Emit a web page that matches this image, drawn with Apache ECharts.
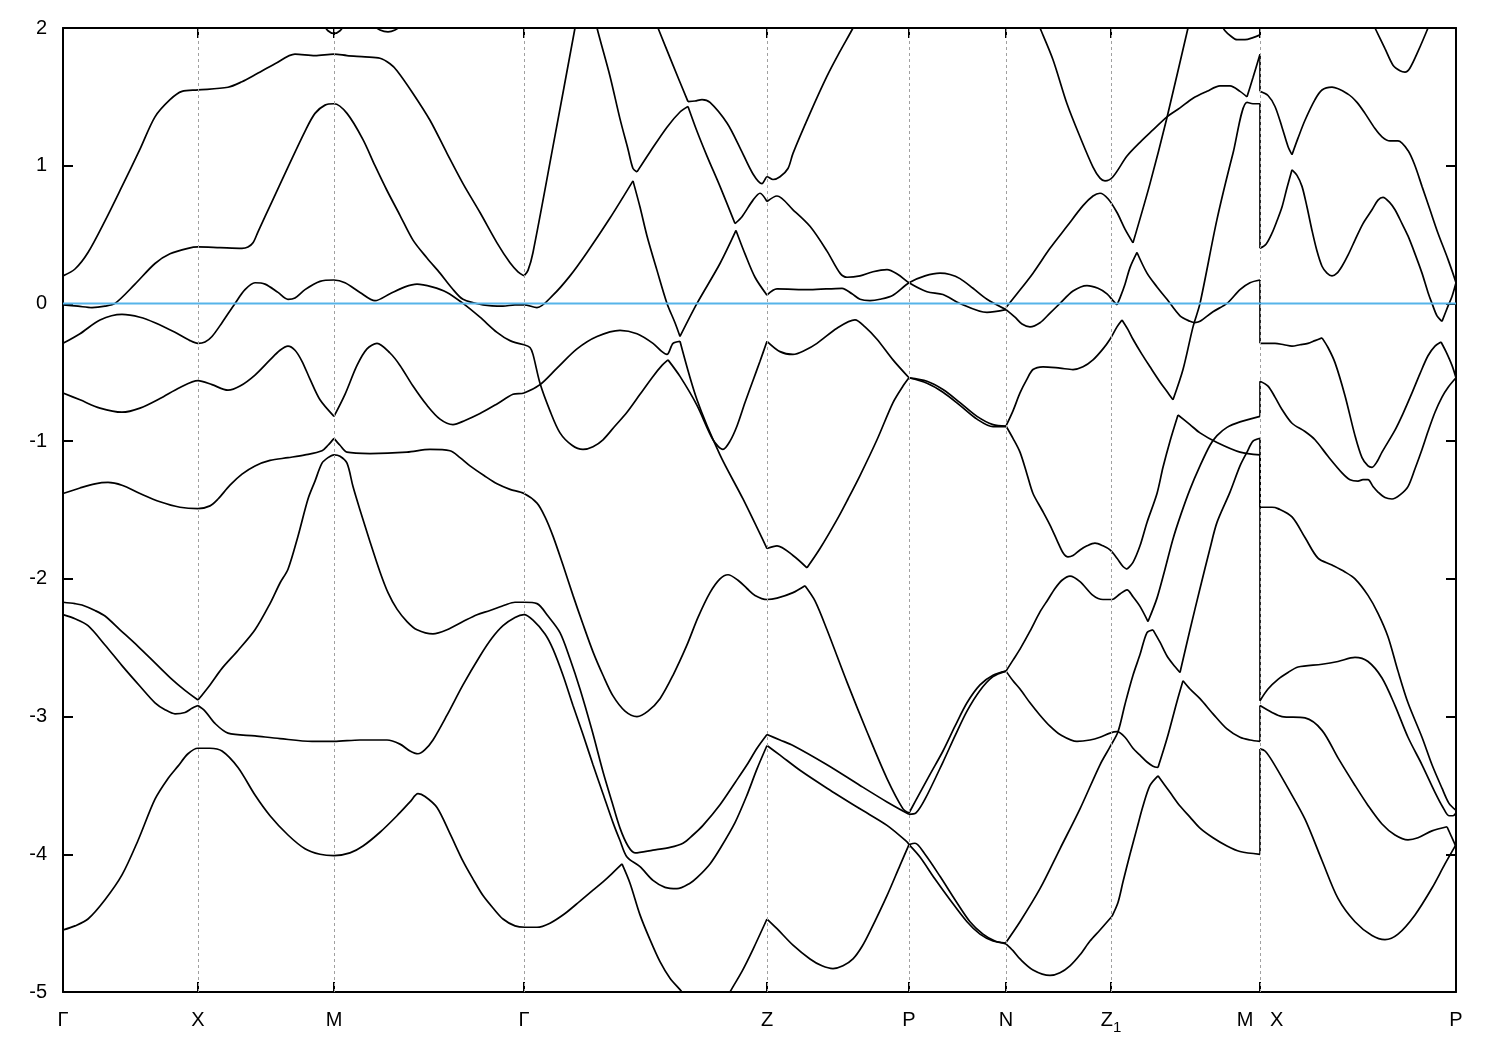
<!DOCTYPE html>
<html><head><meta charset="utf-8">
<script src="https://cdn.jsdelivr.net/npm/echarts@6/dist/echarts.min.js"></script>
<style>html,body{margin:0;padding:0;background:#fff}#c{width:1500px;height:1050px}</style>
</head><body><div id="c"></div>
<script>
// k-path positions of the high-symmetry points and their labels
const tickPositions = [0, 1.35, 2.71, 4.61, 7.04, 8.46, 9.43, 10.48, 11.97, 13.93];
const tickLabels = ['Γ', 'X', 'M', 'Γ', 'Z', 'P', 'N', 'Z1', 'M   X', 'P'];
const energyMin = -5, energyMax = 2, energyStep = 1;
const fermiLevel = 0;

// Each band: list of pieces (split at sharp kinks), points are [k, E(eV)]
const bandA = [
 [[0,0.20],[0.12,0.25],[0.25,0.37],[0.42,0.60],[0.59,0.85],[0.77,1.12],[0.92,1.355],[1.07,1.48],[1.19,1.54],[1.35,1.55],[1.65,1.57],[1.79,1.61],[1.92,1.66],[2.12,1.74],[2.32,1.81],[2.52,1.80],[2.71,1.81],[2.84,1.80],[3.02,1.79],[3.17,1.78],[3.27,1.74],[3.34,1.69],[3.50,1.525],[3.67,1.33],[3.84,1.09],[4.00,0.87],[4.17,0.66],[4.34,0.44],[4.47,0.295],[4.55,0.23],[4.61,0.20]],
 [[4.61,0.20],[4.65,0.24],[4.70,0.37],[4.90,1.14],[5.12,2.0],[5.15,2.12]]
];
const bandU1 = [
 [[5.32,2.08],[5.34,2.0],[5.47,1.65],[5.57,1.34],[5.65,1.12],[5.70,0.98],[5.74,0.955]],
 [[5.74,0.955],[5.87,1.10],[6.04,1.28],[6.17,1.39],[6.25,1.43]],
 [[6.25,1.43],[6.34,1.25],[6.44,1.07],[6.57,0.85],[6.72,0.58]],
 [[6.72,0.58],[6.79,0.63],[6.90,0.75],[6.97,0.80],[7.04,0.74]],
 [[7.04,0.74],[7.14,0.78],[7.30,0.68],[7.47,0.56],[7.64,0.38],[7.77,0.22],[7.84,0.19],[7.97,0.20],[8.10,0.23],[8.24,0.245],[8.35,0.21],[8.46,0.15],[8.64,0.085],[8.80,0.065],[8.97,0.0],[9.24,-0.065],[9.43,-0.045]]
];
const bandU2 = [
 [[5.92,2.05],[5.95,2.0],[6.10,1.73],[6.25,1.465]],
 [[6.25,1.465],[6.32,1.47],[6.39,1.48],[6.47,1.46],[6.64,1.31],[6.77,1.13],[6.90,0.94],[6.99,0.87],[7.02,0.90],[7.04,0.92],[7.10,0.90],[7.17,0.92],[7.25,0.98],[7.30,1.09],[7.47,1.38],[7.64,1.65],[7.77,1.83],[7.90,2.0],[7.93,2.05]]
];
const bandB = [
 [[0,-0.01],[0.15,-0.02],[0.29,-0.03],[0.42,-0.02],[0.52,0.0],[0.72,0.14],[0.92,0.29],[1.07,0.36],[1.25,0.40],[1.35,0.41],[1.57,0.405],[1.79,0.40],[1.85,0.41],[1.90,0.44],[1.95,0.52],[2.09,0.74],[2.25,0.99],[2.42,1.25],[2.52,1.38],[2.62,1.44],[2.71,1.45],[2.84,1.38],[3.00,1.19],[3.12,1.0],[3.24,0.82],[3.37,0.64],[3.50,0.46],[3.64,0.33],[3.77,0.22],[3.89,0.11],[4.00,0.03],[4.20,-0.01],[4.40,-0.02],[4.52,-0.01],[4.61,-0.01],[4.74,-0.03],[4.90,0.06],[5.07,0.20],[5.24,0.37],[5.47,0.62],[5.70,0.89]],
 [[5.70,0.89],[5.77,0.70],[5.84,0.49],[5.94,0.24],[6.04,0.0],[6.12,-0.14],[6.17,-0.24]],
 [[6.17,-0.24],[6.34,0.0],[6.57,0.29],[6.73,0.53]],
 [[6.73,0.53],[6.82,0.36],[6.92,0.19],[7.04,0.06]],
 [[7.04,0.06],[7.14,0.105],[7.47,0.10],[7.79,0.11],[7.89,0.07],[7.97,0.03],[8.07,0.02],[8.17,0.03],[8.30,0.06],[8.46,0.15],[8.62,0.20],[8.77,0.22],[8.87,0.21],[8.97,0.18],[9.10,0.11],[9.24,0.03],[9.43,-0.045]]
];
const bandC = [
 [[0,-0.29],[0.17,-0.22],[0.37,-0.12],[0.59,-0.08],[0.77,-0.10],[0.92,-0.14],[1.12,-0.21],[1.27,-0.27],[1.35,-0.29],[1.42,-0.28],[1.49,-0.24],[1.59,-0.14],[1.72,0.0],[1.82,0.10],[1.92,0.15],[2.02,0.14],[2.15,0.08],[2.25,0.03],[2.32,0.04],[2.42,0.10],[2.57,0.16],[2.71,0.17],[2.82,0.15],[2.97,0.08],[3.12,0.02],[3.27,0.07],[3.42,0.12],[3.54,0.14],[3.69,0.12],[3.84,0.08],[4.00,0.0],[4.17,-0.10],[4.34,-0.21],[4.47,-0.27],[4.61,-0.30]],
 [[4.61,-0.30],[4.67,-0.32],[4.70,-0.37],[4.77,-0.58],[4.87,-0.78],[4.97,-0.94],[5.09,-1.03],[5.20,-1.06],[5.30,-1.04],[5.40,-0.99],[5.52,-0.89],[5.64,-0.79],[5.77,-0.66],[5.90,-0.53],[5.99,-0.45],[6.05,-0.41]],
 [[6.05,-0.41],[6.17,-0.53],[6.34,-0.74],[6.50,-0.99],[6.60,-1.06],[6.67,-1.0],[6.74,-0.89],[6.82,-0.72],[6.90,-0.56],[6.97,-0.42],[7.04,-0.275]],
 [[7.04,-0.275],[7.17,-0.35],[7.30,-0.37],[7.42,-0.34],[7.54,-0.29],[7.74,-0.18],[7.92,-0.12],[8.02,-0.17],[8.14,-0.26],[8.30,-0.41],[8.46,-0.54]],
 [[8.46,-0.54],[8.64,-0.565],[8.80,-0.625],[8.97,-0.72],[9.14,-0.82],[9.30,-0.88],[9.43,-0.89]]
];
const bandD = [
 [[0,-0.65],[0.17,-0.70],[0.37,-0.76],[0.59,-0.79],[0.77,-0.76],[0.97,-0.69],[1.17,-0.61],[1.35,-0.56],[1.49,-0.59],[1.65,-0.63],[1.77,-0.60],[1.92,-0.52],[2.07,-0.41],[2.17,-0.34],[2.25,-0.31],[2.32,-0.34],[2.39,-0.42],[2.47,-0.55],[2.57,-0.70],[2.71,-0.82]],
 [[2.71,-0.82],[2.82,-0.66],[2.94,-0.45],[3.04,-0.33],[3.14,-0.29],[3.27,-0.36],[3.37,-0.45],[3.50,-0.60],[3.64,-0.74],[3.77,-0.84],[3.90,-0.88],[4.02,-0.85],[4.17,-0.80],[4.34,-0.73],[4.50,-0.66],[4.61,-0.65],[4.77,-0.59],[4.94,-0.47],[5.14,-0.33],[5.34,-0.24],[5.57,-0.195],[5.74,-0.22],[5.90,-0.29],[5.99,-0.35],[6.04,-0.37],[6.10,-0.29],[6.17,-0.275]],
 [[6.17,-0.275],[6.34,-0.70],[6.57,-1.10],[6.80,-1.42],[7.04,-1.78]],
 [[7.04,-1.78],[7.14,-1.76],[7.30,-1.83],[7.44,-1.92]],
 [[7.44,-1.92],[7.57,-1.78],[7.74,-1.57],[7.85,-1.42],[7.97,-1.25],[8.14,-0.99],[8.30,-0.72],[8.40,-0.60],[8.46,-0.54]],
 [[8.46,-0.54],[8.64,-0.58],[8.80,-0.645],[8.97,-0.74],[9.14,-0.84],[9.30,-0.895],[9.43,-0.895]]
];
const bandE = [
 [[0,-1.38],[0.17,-1.34],[0.32,-1.31],[0.45,-1.30],[0.59,-1.32],[0.77,-1.38],[0.97,-1.44],[1.17,-1.48],[1.35,-1.49],[1.47,-1.47],[1.55,-1.42],[1.67,-1.32],[1.79,-1.24],[1.92,-1.18],[2.07,-1.14],[2.25,-1.12],[2.42,-1.10],[2.59,-1.07],[2.65,-1.03],[2.71,-0.98]],
 [[2.71,-0.98],[2.77,-1.03],[2.84,-1.08],[3.07,-1.09],[3.44,-1.08],[3.67,-1.06],[3.87,-1.07],[3.97,-1.12],[4.07,-1.18],[4.21,-1.25],[4.34,-1.31],[4.47,-1.35],[4.61,-1.38],[4.74,-1.45],[4.82,-1.55],[4.90,-1.69],[5.00,-1.90],[5.10,-2.12],[5.20,-2.33],[5.30,-2.53],[5.40,-2.70],[5.50,-2.85],[5.62,-2.96],[5.74,-3.0],[5.85,-2.96],[5.97,-2.87],[6.10,-2.70],[6.24,-2.48],[6.35,-2.28],[6.47,-2.10],[6.57,-2.0],[6.65,-1.97],[6.75,-2.01],[6.84,-2.07],[6.92,-2.12],[7.04,-2.15],[7.14,-2.14],[7.30,-2.10],[7.42,-2.05]],
 [[7.42,-2.05],[7.52,-2.16],[7.64,-2.37],[7.84,-2.75],[8.04,-3.11],[8.24,-3.45],[8.40,-3.67],[8.46,-3.70]],
 [[8.46,-3.70],[8.52,-3.62],[8.67,-3.42],[8.80,-3.25],[8.92,-3.07],[9.04,-2.90],[9.17,-2.77],[9.30,-2.70],[9.43,-2.67]]
];
const bandF = [
 [[0,-2.17],[0.12,-2.18],[0.19,-2.19],[0.32,-2.23],[0.42,-2.27],[0.57,-2.37],[0.75,-2.49],[0.92,-2.61],[1.09,-2.73],[1.22,-2.81],[1.35,-2.88]],
 [[1.35,-2.88],[1.47,-2.77],[1.59,-2.65],[1.75,-2.52],[1.92,-2.37],[2.07,-2.18],[2.17,-2.03],[2.25,-1.93],[2.35,-1.69],[2.45,-1.42],[2.52,-1.29],[2.59,-1.16],[2.65,-1.12],[2.71,-1.10],[2.77,-1.11],[2.84,-1.16],[2.90,-1.33],[2.97,-1.50],[3.07,-1.73],[3.17,-1.95],[3.25,-2.10],[3.34,-2.22],[3.44,-2.31],[3.54,-2.37],[3.70,-2.40],[3.84,-2.37],[4.00,-2.31],[4.14,-2.26],[4.27,-2.23],[4.42,-2.19],[4.52,-2.17],[4.61,-2.17],[4.74,-2.18],[4.85,-2.27],[4.97,-2.39],[5.07,-2.58],[5.17,-2.80],[5.29,-3.10],[5.40,-3.40],[5.49,-3.62],[5.57,-3.81],[5.65,-3.94],[5.72,-3.99],[5.90,-3.97],[6.07,-3.95],[6.20,-3.92],[6.30,-3.86],[6.40,-3.79],[6.57,-3.64],[6.72,-3.48],[6.84,-3.35],[6.94,-3.23],[7.04,-3.13]],
 [[7.04,-3.13],[7.17,-3.17],[7.30,-3.21],[7.64,-3.35],[7.97,-3.50],[8.24,-3.62],[8.46,-3.71]],
 [[8.46,-3.71],[8.53,-3.70],[8.62,-3.60],[8.80,-3.33],[8.92,-3.14],[9.04,-2.96],[9.17,-2.81],[9.30,-2.71],[9.43,-2.67]]
];
const bandG = [
 [[0,-2.26],[0.12,-2.29],[0.25,-2.34],[0.42,-2.48],[0.59,-2.63],[0.77,-2.78],[0.92,-2.90],[1.02,-2.95],[1.12,-2.98],[1.22,-2.97],[1.29,-2.94],[1.35,-2.92]],
 [[1.35,-2.92],[1.42,-2.96],[1.52,-3.05],[1.65,-3.12],[1.92,-3.14],[2.17,-3.16],[2.49,-3.18],[2.71,-3.18],[2.97,-3.17],[3.24,-3.17],[3.37,-3.20],[3.47,-3.25],[3.55,-3.27],[3.62,-3.24],[3.70,-3.17],[3.84,-2.99],[4.00,-2.77],[4.17,-2.56],[4.29,-2.43],[4.40,-2.34],[4.52,-2.28],[4.61,-2.26],[4.70,-2.30],[4.82,-2.40],[4.90,-2.51],[5.00,-2.70],[5.10,-2.92],[5.20,-3.13],[5.30,-3.35],[5.40,-3.56],[5.50,-3.77],[5.57,-3.90],[5.64,-4.02],[5.77,-4.09],[5.90,-4.19],[6.02,-4.24],[6.14,-4.25],[6.27,-4.21],[6.34,-4.17],[6.47,-4.07],[6.57,-3.96],[6.72,-3.77],[6.84,-3.57],[6.94,-3.38],[7.04,-3.21]],
 [[7.04,-3.21],[7.17,-3.28],[7.37,-3.39],[7.64,-3.52],[7.97,-3.67],[8.24,-3.79],[8.44,-3.91],[8.46,-3.93]],
 [[8.46,-3.93],[8.57,-4.02],[8.72,-4.18],[8.87,-4.33],[9.04,-4.49],[9.17,-4.58],[9.30,-4.63],[9.43,-4.645]]
];
const bandH = [
 [[0,-4.55],[0.12,-4.52],[0.25,-4.47],[0.42,-4.33],[0.59,-4.15],[0.75,-3.90],[0.92,-3.60],[1.05,-3.45],[1.15,-3.36],[1.25,-3.27],[1.35,-3.23],[1.47,-3.23],[1.59,-3.25],[1.75,-3.37],[1.92,-3.57],[2.07,-3.72],[2.25,-3.86],[2.42,-3.96],[2.57,-4.0],[2.71,-4.01],[2.87,-3.99],[3.00,-3.94],[3.17,-3.84],[3.34,-3.72],[3.47,-3.62],[3.55,-3.56],[3.62,-3.58],[3.74,-3.66],[3.87,-3.85],[4.00,-4.05],[4.10,-4.18],[4.20,-4.30],[4.30,-4.39],[4.40,-4.47],[4.52,-4.52],[4.62,-4.53],[4.74,-4.53],[4.87,-4.50],[5.02,-4.43],[5.17,-4.34],[5.30,-4.26],[5.40,-4.20],[5.49,-4.14],[5.59,-4.07]],
 [[5.59,-4.07],[5.67,-4.21],[5.77,-4.44],[5.87,-4.62],[5.97,-4.78],[6.07,-4.90],[6.19,-5.0],[6.27,-5.08]]
];
const bandH2 = [
 [[6.62,-5.08],[6.67,-5.0],[6.79,-4.85],[6.90,-4.69],[7.04,-4.47]],
 [[7.04,-4.47],[7.14,-4.54],[7.30,-4.66],[7.47,-4.76],[7.59,-4.81],[7.70,-4.83],[7.80,-4.81],[7.90,-4.76],[7.99,-4.67],[8.07,-4.56],[8.24,-4.30],[8.37,-4.08],[8.46,-3.93]],
 [[8.46,-3.93],[8.52,-3.92],[8.62,-4.0],[8.77,-4.16],[8.92,-4.33],[9.07,-4.49],[9.20,-4.58],[9.32,-4.63],[9.43,-4.65]]
];
const bandTop = [
 [[2.60,2.03],[2.65,1.98],[2.71,1.96],[2.77,1.98],[2.82,2.03]],
 [[3.10,2.02],[3.17,1.985],[3.25,1.972],[3.32,1.985],[3.39,2.02]],
 [[11.58,2.03],[11.62,1.98],[11.68,1.94],[11.74,1.915],[11.82,1.915],[11.90,1.93],[11.97,1.95]],
 [[13.07,2.07],[13.12,2.0],[13.22,1.85],[13.30,1.73],[13.37,1.69],[13.42,1.68],[13.47,1.71],[13.55,1.83],[13.65,2.0],[13.68,2.06]]
];
// N – Z1 – M segment
const bandN1 = [
 [[9.74,2.05],[9.77,2.0],[9.90,1.77],[10.04,1.45],[10.17,1.21],[10.30,0.99],[10.37,0.91],[10.42,0.89],[10.50,0.92],[10.64,1.07],[10.77,1.17],[10.90,1.26],[11.04,1.355],[11.17,1.42],[11.30,1.49],[11.44,1.54],[11.57,1.58],[11.67,1.58],[11.77,1.54],[11.84,1.50]],
 [[11.84,1.50],[11.90,1.64],[11.97,1.81]]
];
const bandN2 = [
 [[9.43,-0.03],[9.54,0.07],[9.70,0.22],[9.87,0.40],[10.04,0.56],[10.20,0.71],[10.30,0.78],[10.37,0.80],[10.45,0.76],[10.54,0.66],[10.62,0.54],[10.70,0.44]],
 [[10.70,0.44],[10.87,0.87],[11.04,1.35],[11.25,2.0],[11.28,2.08]]
];
const bandN3 = [
 [[9.43,-0.045],[9.52,-0.10],[9.59,-0.15],[9.67,-0.17],[9.77,-0.14],[9.87,-0.07],[9.97,0.0],[10.10,0.09],[10.24,0.13],[10.35,0.11],[10.44,0.07],[10.50,0.02],[10.54,-0.01]],
 [[10.54,-0.01],[10.57,0.04],[10.62,0.14],[10.67,0.26],[10.74,0.37]],
 [[10.74,0.37],[10.84,0.22],[10.94,0.12],[11.04,0.03],[11.17,-0.09],[11.27,-0.13],[11.32,-0.14]],
 [[11.32,-0.14],[11.37,-0.13],[11.50,-0.06],[11.64,0.0],[11.77,0.10],[11.87,0.15],[11.97,0.17]]
];
const bandN4 = [
 [[9.43,-0.89],[9.50,-0.78],[9.57,-0.65],[9.64,-0.55],[9.70,-0.48],[9.80,-0.46],[9.97,-0.47],[10.10,-0.48],[10.20,-0.46],[10.30,-0.41],[10.40,-0.33],[10.47,-0.26],[10.54,-0.17],[10.59,-0.12]],
 [[10.59,-0.12],[10.65,-0.19],[10.70,-0.26],[10.79,-0.37],[10.87,-0.46],[10.97,-0.57],[11.04,-0.64],[11.10,-0.70]],
 [[11.10,-0.70],[11.20,-0.48],[11.30,-0.17],[11.37,0.0],[11.54,0.61],[11.70,1.09],[11.84,1.46],[11.90,1.45],[11.97,1.45]]
];
const bandN5 = [
 [[9.43,-0.89],[9.50,-0.98],[9.57,-1.08],[9.64,-1.24],[9.70,-1.38],[9.79,-1.50],[9.87,-1.61],[9.94,-1.72],[10.00,-1.81],[10.05,-1.84],[10.10,-1.83],[10.17,-1.79],[10.24,-1.76],[10.32,-1.74],[10.40,-1.76],[10.47,-1.79],[10.54,-1.85],[10.60,-1.91],[10.64,-1.93]],
 [[10.64,-1.93],[10.70,-1.88],[10.77,-1.76],[10.84,-1.59],[10.94,-1.38],[11.00,-1.19],[11.07,-1.00],[11.15,-0.81]],
 [[11.15,-0.81],[11.27,-0.88],[11.37,-0.94],[11.54,-1.01],[11.77,-1.08],[11.97,-1.10]]
];
const bandN6 = [
 [[9.43,-2.67],[9.50,-2.59],[9.57,-2.51],[9.67,-2.38],[9.77,-2.24],[9.85,-2.15],[9.92,-2.07],[9.99,-2.01],[10.07,-1.98],[10.17,-2.02],[10.30,-2.12],[10.40,-2.15],[10.49,-2.15],[10.57,-2.11],[10.64,-2.08],[10.70,-2.13],[10.77,-2.20],[10.85,-2.31]],
 [[10.85,-2.31],[10.94,-2.14],[11.02,-1.93],[11.10,-1.71],[11.18,-1.53],[11.27,-1.35],[11.37,-1.18],[11.47,-1.03],[11.54,-0.96],[11.64,-0.90],[11.77,-0.86],[11.97,-0.82]]
];
const bandN7 = [
 [[9.43,-2.67],[9.50,-2.74],[9.57,-2.80],[9.67,-2.90],[9.77,-2.99],[9.87,-3.07],[9.97,-3.13],[10.14,-3.18],[10.27,-3.17],[10.37,-3.15],[10.47,-3.12],[10.54,-3.11],[10.62,-3.15],[10.70,-3.23],[10.77,-3.28],[10.84,-3.33],[10.90,-3.36],[10.95,-3.37]],
 [[10.95,-3.37],[11.04,-3.16],[11.14,-2.89],[11.20,-2.74]],
 [[11.20,-2.74],[11.27,-2.80],[11.37,-2.87],[11.50,-2.98],[11.64,-3.09],[11.77,-3.15],[11.87,-3.17],[11.97,-3.18]]
];
const bandN8 = [
 [[9.43,-4.64],[9.57,-4.49],[9.77,-4.25],[9.97,-3.96],[10.17,-3.67],[10.37,-3.35],[10.47,-3.22],[10.55,-3.11],[10.62,-2.91],[10.70,-2.70],[10.77,-2.55],[10.84,-2.39],[10.90,-2.37]],
 [[10.90,-2.37],[10.97,-2.46],[11.04,-2.56],[11.10,-2.62],[11.17,-2.68]],
 [[11.17,-2.68],[11.27,-2.37],[11.37,-2.07],[11.47,-1.78],[11.54,-1.59],[11.67,-1.37],[11.77,-1.18],[11.84,-1.08],[11.90,-1.00],[11.97,-0.98]]
];
const bandN9 = [
 [[9.43,-4.65],[9.50,-4.70],[9.57,-4.76],[9.70,-4.84],[9.87,-4.88],[9.97,-4.86],[10.07,-4.81],[10.17,-4.73],[10.27,-4.63],[10.37,-4.55],[10.49,-4.45]],
 [[10.49,-4.45],[10.55,-4.35],[10.60,-4.20],[10.67,-4.00],[10.74,-3.81],[10.80,-3.65],[10.87,-3.50],[10.95,-3.43]],
 [[10.95,-3.43],[11.07,-3.55],[11.17,-3.65],[11.27,-3.73],[11.37,-3.81],[11.50,-3.88],[11.64,-3.94],[11.77,-3.98],[11.97,-4.0]]
];
// X – P segment
const bandX2 = [
 [[11.97,1.54],[12.05,1.51],[12.12,1.43],[12.19,1.28],[12.25,1.14],[12.29,1.08]],
 [[12.29,1.08],[12.35,1.20],[12.42,1.33],[12.52,1.48],[12.59,1.55],[12.69,1.57],[12.85,1.52],[12.94,1.46],[13.02,1.38],[13.12,1.27],[13.19,1.21],[13.27,1.18],[13.35,1.18],[13.45,1.11],[13.52,1.0],[13.59,0.85],[13.67,0.68],[13.75,0.51],[13.85,0.32],[13.93,0.15]]
];
const bandX3 = [
 [[11.97,0.40],[12.03,0.43],[12.09,0.51],[12.14,0.60],[12.19,0.70],[12.24,0.84],[12.29,0.97]],
 [[12.29,0.97],[12.34,0.93],[12.39,0.85],[12.44,0.70],[12.49,0.53],[12.54,0.38],[12.59,0.27],[12.64,0.22],[12.69,0.20],[12.74,0.22],[12.79,0.27],[12.85,0.35],[12.92,0.46],[13.00,0.58],[13.09,0.68],[13.15,0.75],[13.20,0.77],[13.27,0.73],[13.32,0.68],[13.39,0.58],[13.45,0.49],[13.52,0.36],[13.59,0.22],[13.65,0.08],[13.69,0.0],[13.74,-0.09],[13.79,-0.13]],
 [[13.79,-0.13],[13.85,-0.02],[13.89,0.05],[13.93,0.15]]
];
const bandX4 = [
 [[11.97,-0.29],[12.12,-0.29],[12.21,-0.30],[12.29,-0.31],[12.37,-0.30],[12.45,-0.29],[12.52,-0.27],[12.59,-0.25]],
 [[12.59,-0.25],[12.65,-0.32],[12.72,-0.43],[12.82,-0.67],[12.92,-0.96],[12.99,-1.12],[13.05,-1.18],[13.09,-1.19],[13.14,-1.15],[13.19,-1.08],[13.32,-0.92],[13.40,-0.80],[13.49,-0.65],[13.57,-0.51],[13.65,-0.38],[13.72,-0.31],[13.78,-0.28]],
 [[13.78,-0.28],[13.83,-0.35],[13.89,-0.45],[13.93,-0.54]]
];
const bandX5 = [
 [[11.97,-0.565],[12.05,-0.60],[12.12,-0.68],[12.19,-0.77],[12.29,-0.87],[12.42,-0.93],[12.52,-0.99],[12.65,-1.11],[12.79,-1.23],[12.87,-1.28],[12.95,-1.29],[13.00,-1.28],[13.05,-1.28],[13.10,-1.33],[13.15,-1.37],[13.22,-1.41],[13.29,-1.42],[13.37,-1.39],[13.45,-1.33],[13.52,-1.20],[13.59,-1.06],[13.65,-0.93],[13.72,-0.79],[13.79,-0.68],[13.85,-0.61],[13.93,-0.54]]
];
const bandX6 = [
 [[11.97,-1.48],[12.09,-1.48],[12.15,-1.49],[12.29,-1.55],[12.42,-1.70],[12.55,-1.85],[12.69,-1.90],[12.82,-1.95],[12.92,-2.0],[13.05,-2.12],[13.15,-2.25],[13.25,-2.42],[13.35,-2.67],[13.45,-2.90],[13.59,-3.15],[13.69,-3.35],[13.79,-3.52],[13.86,-3.63],[13.93,-3.68]]
];
const bandX7 = [
 [[11.97,-2.885],[12.05,-2.80],[12.15,-2.73],[12.25,-2.68],[12.35,-2.64],[12.59,-2.62],[12.75,-2.60],[12.92,-2.57],[13.05,-2.60],[13.19,-2.72],[13.32,-2.92],[13.45,-3.15],[13.59,-3.35],[13.72,-3.55],[13.80,-3.66],[13.86,-3.72],[13.90,-3.72],[13.93,-3.70]]
];
const bandX8 = [
 [[11.97,-2.92],[12.09,-2.97],[12.19,-3.0],[12.42,-3.01],[12.59,-3.10],[12.75,-3.30],[12.92,-3.50],[13.05,-3.645],[13.19,-3.78],[13.32,-3.86],[13.45,-3.895],[13.55,-3.88],[13.69,-3.83],[13.84,-3.80]],
 [[13.84,-3.80],[13.93,-3.945]]
];
const bandX9 = [
 [[11.97,-3.235],[12.02,-3.25],[12.09,-3.32],[12.25,-3.52],[12.42,-3.745],[12.59,-4.045],[12.75,-4.32],[12.92,-4.49],[13.09,-4.59],[13.22,-4.62],[13.35,-4.58],[13.52,-4.44],[13.69,-4.245],[13.82,-4.07],[13.93,-3.93]]
];
// discontinuity at M|X: band energies at M and at X
const jumpK = 11.97;
const jumpAtM = [1.95, 1.81, 1.45, 0.17, -0.82, -0.98, -1.10, -3.18, -4.0];
const jumpAtX = [2.10, 1.54, 0.40, -0.29, -0.565, -1.48, -2.885, -2.92, -3.235];

const allBands = [bandA, bandU1, bandU2, bandB, bandC, bandD, bandE, bandF, bandG, bandH, bandH2, bandTop,
  bandN1, bandN2, bandN3, bandN4, bandN5, bandN6, bandN7, bandN8, bandN9,
  bandX2, bandX3, bandX4, bandX5, bandX6, bandX7, bandX8, bandX9];

const kMax = tickPositions[tickPositions.length - 1];
const FONT = '"Liberation Sans", Arial, Helvetica, sans-serif';
const BAND_W = 1.7;
const series = [];
series.push({
  type: 'line', data: [[0, fermiLevel]], symbol: 'none', lineStyle: { width: 0 }, z: 1, silent: true,
  markLine: {
    silent: true, symbol: ['none', 'none'], label: { show: false },
    lineStyle: { color: '#a0a0a0', type: [3, 3], width: 1 },
    data: tickPositions.slice(1, -1).map(v => ({ xAxis: v }))
  }
});
allBands.forEach(band => band.forEach(piece => {
  series.push({ type: 'line', data: piece, symbol: 'none', showSymbol: false, smooth: 0.3,
    lineStyle: { color: '#000', width: BAND_W }, z: 3, silent: true, clip: true });
}));
jumpAtM.forEach((e, i) => {
  series.push({ type: 'line', data: [[jumpK, e], [jumpK, jumpAtX[i]]], symbol: 'none',
    lineStyle: { color: '#000', width: BAND_W }, z: 3, silent: true, clip: true });
});
series.push({ type: 'line', data: [[0, fermiLevel], [kMax, fermiLevel]], symbol: 'none',
  lineStyle: { color: '#56b4e9', width: 2 }, z: 4, silent: true });

function labelFor(v) {
  const i = tickPositions.findIndex(t => Math.abs(t - v) < 1e-6);
  if (i < 0) return '';
  const l = tickLabels[i];
  if (l === 'Z1') return '{n|Z}{s|1}';
  return '{n|' + l + '}';
}

const chart = echarts.init(document.getElementById('c'), null, { renderer: 'canvas' });
chart.setOption({
  animation: false,
  backgroundColor: '#fff',
  grid: { left: 63, right: 44, top: 28, bottom: 58 },
  xAxis: [{
    type: 'value', min: 0, max: kMax, position: 'bottom',
    axisLine: { show: true, onZero: false, lineStyle: { color: '#000', width: 2 } },
    axisTick: { show: true, inside: true, length: 10, customValues: tickPositions, lineStyle: { color: '#000', width: 2 } },
    axisLabel: { show: true, customValues: tickPositions, formatter: labelFor, margin: 13,
      rich: {
        n: { fontSize: 20, fontFamily: FONT, color: '#000', lineHeight: 30, verticalAlign: 'middle' },
        s: { fontSize: 15, fontFamily: FONT, color: '#000', lineHeight: 30, verticalAlign: 'bottom' }
      } },
    splitLine: { show: false }
  }, {
    type: 'value', min: 0, max: kMax, position: 'top',
    axisLine: { show: true, onZero: false, lineStyle: { color: '#000', width: 2 } },
    axisTick: { show: true, inside: true, length: 10, customValues: tickPositions, lineStyle: { color: '#000', width: 2 } },
    axisLabel: { show: false }, splitLine: { show: false }
  }],
  yAxis: [{
    type: 'value', min: energyMin, max: energyMax, interval: energyStep, position: 'left',
    axisLine: { show: true, onZero: false, lineStyle: { color: '#000', width: 2 } },
    axisTick: { show: true, inside: true, length: 10, lineStyle: { color: '#000', width: 2 } },
    axisLabel: { fontSize: 20, fontFamily: FONT, color: '#000', margin: 16 },
    splitLine: { show: false }
  }, {
    type: 'value', min: energyMin, max: energyMax, interval: energyStep, position: 'right',
    axisLine: { show: true, onZero: false, lineStyle: { color: '#000', width: 2 } },
    axisTick: { show: true, inside: true, length: 10, lineStyle: { color: '#000', width: 2 } },
    axisLabel: { show: false }, splitLine: { show: false }
  }],
  series: series
});
</script>
</body></html>
